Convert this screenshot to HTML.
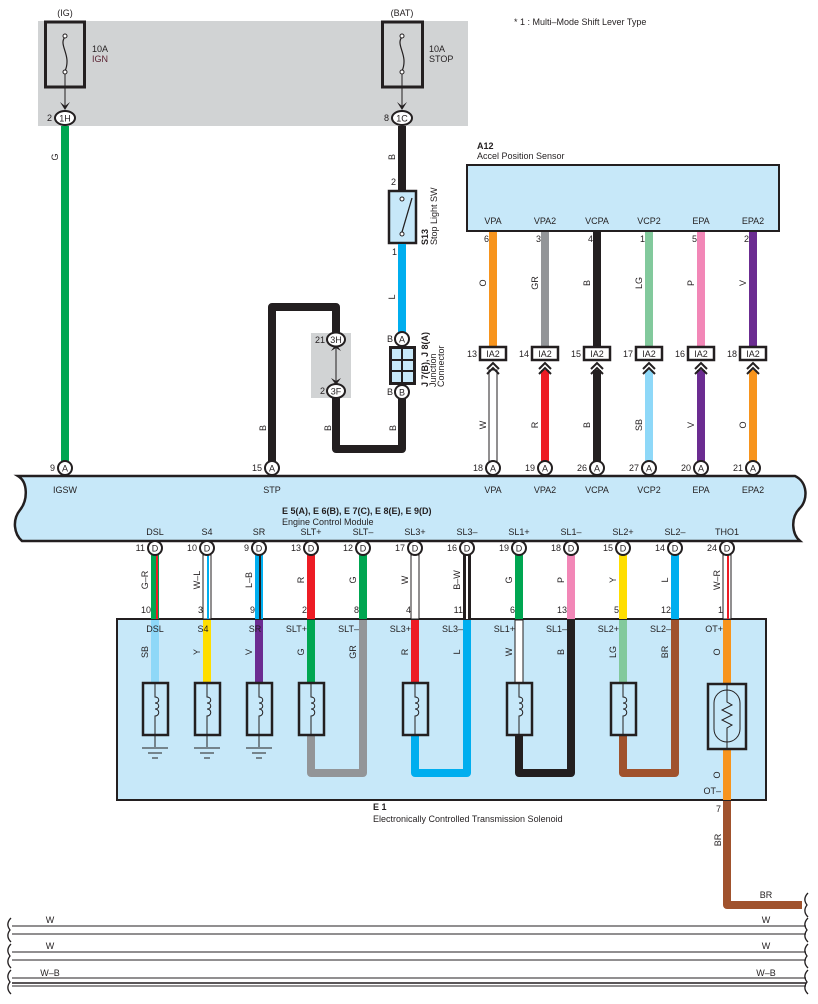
<!DOCTYPE html>
<html><head><meta charset="utf-8"><style>
html,body{margin:0;padding:0;background:#fff}
svg{display:block}
text{font-family:"Liberation Sans",sans-serif;font-size:9px;fill:#231f20}
.b{font-weight:bold}
.c{text-anchor:middle}
.e{text-anchor:end}
</style></head><body>
<svg width="818" height="1004" viewBox="0 0 818 1004" xmlns="http://www.w3.org/2000/svg">
<!-- fuse gray area -->
<rect x="38" y="21" width="430" height="105" fill="#d1d3d4"/>
<text x="65" y="16" class="c">(IG)</text>
<text x="402" y="16" class="c">(BAT)</text>
<text x="514" y="25">* 1 : Multi–Mode Shift Lever Type</text>
<rect x="45.5" y="22" width="39" height="65" fill="none" stroke="#231f20" stroke-width="3"/>
<rect x="382.5" y="22" width="40" height="65" fill="none" stroke="#231f20" stroke-width="3"/>
<path d="M65 37 C58 45,72 55,65 71 M402 37 C395 45,409 55,402 71" fill="none" stroke="#231f20" stroke-width="1.2"/>
<circle cx="65" cy="36" r="2" fill="#fff" stroke="#231f20"/><circle cx="65" cy="72" r="2" fill="#fff" stroke="#231f20"/>
<circle cx="402" cy="36" r="2" fill="#fff" stroke="#231f20"/><circle cx="402" cy="72" r="2" fill="#fff" stroke="#231f20"/>
<line x1="65" y1="74" x2="65" y2="108" stroke="#231f20"/><line x1="402" y1="74" x2="402" y2="108" stroke="#231f20"/>
<path d="M60 102 L65 110 L70 102 L65 106Z M397 102 L402 110 L407 102 L402 106Z" fill="#231f20"/>
<text x="92" y="52">10A</text><text x="92" y="62" style="fill:#5b2333">IGN</text>
<text x="429" y="52">10A</text><text x="429" y="62">STOP</text>

<!-- green IG wire -->
<rect x="61" y="126" width="8" height="336" fill="#00a651"/>
<text transform="translate(58,157) rotate(-90)" class="c">G</text>
<!-- stop wire -->
<rect x="398" y="126" width="8" height="64" fill="#231f20"/>
<text transform="translate(395,157) rotate(-90)" class="c">B</text>
<text x="396" y="185" class="e">2</text>
<rect x="389" y="191" width="27" height="52" fill="#c7e8f9" stroke="#231f20" stroke-width="2.5"/>
<circle cx="402" cy="199" r="2" fill="#fff" stroke="#231f20"/><circle cx="402" cy="234" r="2" fill="#fff" stroke="#231f20"/>
<line x1="402" y1="232" x2="412" y2="198" stroke="#231f20" stroke-width="1.3"/>
<text x="397" y="255" class="e">1</text>
<text transform="translate(428,245) rotate(-90)" class="b">S13</text>
<text transform="translate(437,245) rotate(-90)">Stop Light SW</text>
<rect x="398" y="244" width="8" height="88" fill="#00aeef"/>
<text transform="translate(395,297) rotate(-90)" class="c">L</text>
<text x="393" y="342" class="e">B</text>
<ellipse cx="402" cy="339" rx="7" ry="7" fill="#fff" stroke="#231f20" stroke-width="2"/><text x="402" y="342.5" class="c">A</text>
<rect x="389" y="346" width="27" height="39" fill="#231f20"/>
<rect x="392" y="349" width="9" height="10" fill="#c7e8f9"/><rect x="403" y="349" width="10" height="10" fill="#c7e8f9"/>
<rect x="392" y="361" width="9" height="9" fill="#c7e8f9"/><rect x="403" y="361" width="10" height="9" fill="#c7e8f9"/>
<rect x="392" y="372" width="9" height="10" fill="#c7e8f9"/><rect x="403" y="372" width="10" height="10" fill="#c7e8f9"/>
<text x="393" y="395" class="e">B</text>
<ellipse cx="402" cy="392" rx="7" ry="7" fill="#fff" stroke="#231f20" stroke-width="2"/><text x="402" y="395.5" class="c">B</text>
<text transform="translate(428,387) rotate(-90)" class="b">J 7(B), J 8(A)</text>
<text transform="translate(436,387) rotate(-90)">Junction</text>
<text transform="translate(444,387) rotate(-90)">Connector</text>
<!-- black loop -->
<path d="M402 399 L402 449 L336 449 L336 398" fill="none" stroke="#231f20" stroke-width="8" stroke-linejoin="round"/>
<text transform="translate(396,428) rotate(-90)" class="c">B</text>
<text transform="translate(331,428) rotate(-90)" class="c">B</text>
<rect x="311" y="333" width="40" height="65" fill="#d1d3d4"/>
<line x1="336" y1="346" x2="336" y2="385" stroke="#231f20"/>
<path d="M331 351 L336 344 L341 351 L336 348Z M331 378 L336 385 L341 378 L336 381Z" fill="#231f20"/>
<text x="325" y="343" class="e">21</text><text x="325" y="394" class="e">2</text>
<ellipse cx="336" cy="339.5" rx="9" ry="7" fill="#fff" stroke="#231f20" stroke-width="2"/><text x="336" y="343" class="c">3H</text>
<ellipse cx="336" cy="391" rx="9" ry="7" fill="#fff" stroke="#231f20" stroke-width="2"/><text x="336" y="394.5" class="c">3F</text>
<path d="M336 333 L336 307 L272 307 L272 462" fill="none" stroke="#231f20" stroke-width="8" stroke-linejoin="round"/>
<text transform="translate(266,428) rotate(-90)" class="c">B</text>
<text x="402" y="122" class="c"></text>
<!-- 1H 1C -->
<ellipse cx="65" cy="118" rx="10" ry="7" fill="#fff" stroke="#231f20" stroke-width="2"/><text x="65" y="121.5" class="c">1H</text>
<text x="52" y="121" class="e">2</text>
<ellipse cx="402" cy="118" rx="10" ry="7" fill="#fff" stroke="#231f20" stroke-width="2"/><text x="402" y="121.5" class="c">1C</text>
<text x="389" y="121" class="e">8</text>

<!-- A12 sensor -->
<text x="477" y="149" class="b">A12</text>
<text x="477" y="159">Accel Position Sensor</text>
<rect x="467" y="165" width="312" height="66" fill="#c7e8f9" stroke="#231f20" stroke-width="2"/>
<g>
<text x="493" y="224" class="c">VPA</text><text x="545" y="224" class="c">VPA2</text><text x="597" y="224" class="c">VCPA</text><text x="649" y="224" class="c">VCP2</text><text x="701" y="224" class="c">EPA</text><text x="753" y="224" class="c">EPA2</text>
<rect x="489" y="232" width="8" height="114" fill="#f7941d"/>
<rect x="541" y="232" width="8" height="114" fill="#939598"/>
<rect x="593" y="232" width="8" height="114" fill="#231f20"/>
<rect x="645" y="232" width="8" height="114" fill="#82c99c"/>
<rect x="697" y="232" width="8" height="114" fill="#f287b7"/>
<rect x="749" y="232" width="8" height="114" fill="#6b2c91"/>
<text x="489" y="242" class="e">6</text><text x="541" y="242" class="e">3</text><text x="593" y="242" class="e">4</text><text x="645" y="242" class="e">1</text><text x="697" y="242" class="e">5</text><text x="749" y="242" class="e">2</text>
<text transform="translate(486,283) rotate(-90)" class="c">O</text>
<text transform="translate(538,283) rotate(-90)" class="c">GR</text>
<text transform="translate(590,283) rotate(-90)" class="c">B</text>
<text transform="translate(642,283) rotate(-90)" class="c">LG</text>
<text transform="translate(694,283) rotate(-90)" class="c">P</text>
<text transform="translate(746,283) rotate(-90)" class="c">V</text>
<!-- lower segments -->
<rect x="489" y="370" width="8" height="92" fill="#fff" stroke="#231f20" stroke-width="1"/>
<rect x="541" y="370" width="8" height="92" fill="#ed1c24"/>
<rect x="593" y="370" width="8" height="92" fill="#231f20"/>
<rect x="645" y="370" width="8" height="92" fill="#8ed8f8"/>
<rect x="697" y="370" width="8" height="92" fill="#6b2c91"/>
<rect x="749" y="370" width="8" height="92" fill="#f7941d"/>
<text transform="translate(486,425) rotate(-90)" class="c">W</text>
<text transform="translate(538,425) rotate(-90)" class="c">R</text>
<text transform="translate(590,425) rotate(-90)" class="c">B</text>
<text transform="translate(642,425) rotate(-90)" class="c">SB</text>
<text transform="translate(694,425) rotate(-90)" class="c">V</text>
<text transform="translate(746,425) rotate(-90)" class="c">O</text>
</g>
<g fill="none" stroke="#231f20" stroke-width="2">
<path d="M487 369 L493 363 L499 369 M487 374 L493 368 L499 374"/>
<path d="M539 369 L545 363 L551 369 M539 374 L545 368 L551 374"/>
<path d="M591 369 L597 363 L603 369 M591 374 L597 368 L603 374"/>
<path d="M643 369 L649 363 L655 369 M643 374 L649 368 L655 374"/>
<path d="M695 369 L701 363 L707 369 M695 374 L701 368 L707 374"/>
<path d="M747 369 L753 363 L759 369 M747 374 L753 368 L759 374"/>
</g>
<g>
<rect x="480" y="347" width="26" height="13" fill="#fff" stroke="#231f20" stroke-width="2.5"/><text x="493" y="357" class="c">IA2</text><text x="477" y="357" class="e">13</text>
<rect x="532" y="347" width="26" height="13" fill="#fff" stroke="#231f20" stroke-width="2.5"/><text x="545" y="357" class="c">IA2</text><text x="529" y="357" class="e">14</text>
<rect x="584" y="347" width="26" height="13" fill="#fff" stroke="#231f20" stroke-width="2.5"/><text x="597" y="357" class="c">IA2</text><text x="581" y="357" class="e">15</text>
<rect x="636" y="347" width="26" height="13" fill="#fff" stroke="#231f20" stroke-width="2.5"/><text x="649" y="357" class="c">IA2</text><text x="633" y="357" class="e">17</text>
<rect x="688" y="347" width="26" height="13" fill="#fff" stroke="#231f20" stroke-width="2.5"/><text x="701" y="357" class="c">IA2</text><text x="685" y="357" class="e">16</text>
<rect x="740" y="347" width="26" height="13" fill="#fff" stroke="#231f20" stroke-width="2.5"/><text x="753" y="357" class="c">IA2</text><text x="737" y="357" class="e">18</text>
</g>

<!-- ECM -->
<path d="M18 476 L795 476 C808 482,808 500,800 508 C790 518,792 534,800 541 L22 541 C14 534,12 520,20 510 C28 500,28 482,18 476Z" fill="#c7e8f9" stroke="#231f20" stroke-width="2.5"/>
<text x="65" y="493" class="c">IGSW</text><text x="272" y="493" class="c">STP</text>
<text x="493" y="493" class="c">VPA</text><text x="545" y="493" class="c">VPA2</text><text x="597" y="493" class="c">VCPA</text><text x="649" y="493" class="c">VCP2</text><text x="701" y="493" class="c">EPA</text><text x="753" y="493" class="c">EPA2</text>
<text x="282" y="514" class="b">E 5(A), E 6(B), E 7(C), E 8(E), E 9(D)</text>
<text x="282" y="525">Engine Control Module</text>
<g>
<text x="155" y="535" class="c">DSL</text><text x="207" y="535" class="c">S4</text><text x="259" y="535" class="c">SR</text><text x="311" y="535" class="c">SLT+</text><text x="363" y="535" class="c">SLT–</text><text x="415" y="535" class="c">SL3+</text><text x="467" y="535" class="c">SL3–</text><text x="519" y="535" class="c">SL1+</text><text x="571" y="535" class="c">SL1–</text><text x="623" y="535" class="c">SL2+</text><text x="675" y="535" class="c">SL2–</text><text x="727" y="535" class="c">THO1</text>
</g>
<!-- A circles -->
<g stroke="#231f20" stroke-width="2" fill="#fff">
<circle cx="65" cy="468" r="7"/><circle cx="272" cy="468" r="7"/>
<circle cx="493" cy="468" r="7"/><circle cx="545" cy="468" r="7"/><circle cx="597" cy="468" r="7"/><circle cx="649" cy="468" r="7"/><circle cx="701" cy="468" r="7"/><circle cx="753" cy="468" r="7"/>
</g>
<g>
<text x="65" y="471.5" class="c">A</text><text x="272" y="471.5" class="c">A</text><text x="493" y="471.5" class="c">A</text><text x="545" y="471.5" class="c">A</text><text x="597" y="471.5" class="c">A</text><text x="649" y="471.5" class="c">A</text><text x="701" y="471.5" class="c">A</text><text x="753" y="471.5" class="c">A</text>
<text x="55" y="471" class="e">9</text><text x="262" y="471" class="e">15</text><text x="483" y="471" class="e">18</text><text x="535" y="471" class="e">19</text><text x="587" y="471" class="e">26</text><text x="639" y="471" class="e">27</text><text x="691" y="471" class="e">20</text><text x="743" y="471" class="e">21</text>
</g>

<!-- E1 box -->
<rect x="117" y="619" width="649" height="181" fill="#c7e8f9" stroke="#231f20" stroke-width="2"/>
<!-- upper wires ECM->E1 -->
<rect x="151" y="555" width="8" height="64" fill="#00a651"/><rect x="156" y="555" width="2" height="64" fill="#ed1c24"/>
<rect x="203" y="555" width="8" height="64" fill="#fff" stroke="#231f20"/><rect x="207" y="555" width="2" height="64" fill="#00aeef"/>
<rect x="255" y="555" width="8" height="64" fill="#00aeef"/><rect x="259" y="555" width="2" height="64" fill="#231f20"/>
<rect x="307" y="555" width="8" height="64" fill="#ed1c24"/>
<rect x="359" y="555" width="8" height="64" fill="#00a651"/>
<rect x="411" y="555" width="8" height="64" fill="#fff" stroke="#231f20"/>
<rect x="463" y="555" width="8" height="64" fill="#231f20"/><rect x="466" y="555" width="2" height="64" fill="#fff"/>
<rect x="515" y="555" width="8" height="64" fill="#00a651"/>
<rect x="567" y="555" width="8" height="64" fill="#f287b7"/>
<rect x="619" y="555" width="8" height="64" fill="#ffde00"/>
<rect x="671" y="555" width="8" height="64" fill="#00aeef"/>
<rect x="723" y="555" width="8" height="64" fill="#fff" stroke="#231f20"/><rect x="727" y="555" width="2" height="64" fill="#ed1c24"/>
<g>
<text transform="translate(148,580) rotate(-90)" class="c">G–R</text>
<text transform="translate(200,580) rotate(-90)" class="c">W–L</text>
<text transform="translate(252,580) rotate(-90)" class="c">L–B</text>
<text transform="translate(304,580) rotate(-90)" class="c">R</text>
<text transform="translate(356,580) rotate(-90)" class="c">G</text>
<text transform="translate(408,580) rotate(-90)" class="c">W</text>
<text transform="translate(460,580) rotate(-90)" class="c">B–W</text>
<text transform="translate(512,580) rotate(-90)" class="c">G</text>
<text transform="translate(564,580) rotate(-90)" class="c">P</text>
<text transform="translate(616,580) rotate(-90)" class="c">Y</text>
<text transform="translate(668,580) rotate(-90)" class="c">L</text>
<text transform="translate(720,580) rotate(-90)" class="c">W–R</text>
<text x="151" y="613" class="e">10</text><text x="203" y="613" class="e">3</text><text x="255" y="613" class="e">9</text><text x="307" y="613" class="e">2</text><text x="359" y="613" class="e">8</text><text x="411" y="613" class="e">4</text><text x="463" y="613" class="e">11</text><text x="515" y="613" class="e">6</text><text x="567" y="613" class="e">13</text><text x="619" y="613" class="e">5</text><text x="671" y="613" class="e">12</text><text x="723" y="613" class="e">1</text>
</g>
<!-- D circles -->
<g stroke="#231f20" stroke-width="2" fill="#fff">
<circle cx="155" cy="548" r="7"/><circle cx="207" cy="548" r="7"/><circle cx="259" cy="548" r="7"/><circle cx="311" cy="548" r="7"/><circle cx="363" cy="548" r="7"/><circle cx="415" cy="548" r="7"/><circle cx="467" cy="548" r="7"/><circle cx="519" cy="548" r="7"/><circle cx="571" cy="548" r="7"/><circle cx="623" cy="548" r="7"/><circle cx="675" cy="548" r="7"/><circle cx="727" cy="548" r="7"/>
</g>
<g>
<text x="155" y="551.5" class="c">D</text><text x="207" y="551.5" class="c">D</text><text x="259" y="551.5" class="c">D</text><text x="311" y="551.5" class="c">D</text><text x="363" y="551.5" class="c">D</text><text x="415" y="551.5" class="c">D</text><text x="467" y="551.5" class="c">D</text><text x="519" y="551.5" class="c">D</text><text x="571" y="551.5" class="c">D</text><text x="623" y="551.5" class="c">D</text><text x="675" y="551.5" class="c">D</text><text x="727" y="551.5" class="c">D</text>
<text x="145" y="551" class="e">11</text><text x="197" y="551" class="e">10</text><text x="249" y="551" class="e">9</text><text x="301" y="551" class="e">13</text><text x="353" y="551" class="e">12</text><text x="405" y="551" class="e">17</text><text x="457" y="551" class="e">16</text><text x="509" y="551" class="e">19</text><text x="561" y="551" class="e">18</text><text x="613" y="551" class="e">15</text><text x="665" y="551" class="e">14</text><text x="717" y="551" class="e">24</text>
</g>
<!-- inside E1 wires -->
<rect x="151" y="620" width="8" height="63" fill="#8ed8f8"/>
<rect x="203" y="620" width="8" height="63" fill="#ffde00"/>
<rect x="255" y="620" width="8" height="63" fill="#6b2c91"/>
<rect x="307" y="620" width="8" height="63" fill="#00a651"/>
<path d="M311 736 L311 773 L363 773 L363 620" fill="none" stroke="#939598" stroke-width="8" stroke-linejoin="round"/>
<rect x="411" y="620" width="8" height="63" fill="#ed1c24"/>
<path d="M415 736 L415 773 L467 773 L467 620" fill="none" stroke="#00aeef" stroke-width="8" stroke-linejoin="round"/>
<rect x="515" y="620" width="8" height="63" fill="#fff" stroke="#231f20" stroke-width="1"/>
<path d="M519 736 L519 773 L571 773 L571 620" fill="none" stroke="#231f20" stroke-width="8" stroke-linejoin="round"/>
<rect x="619" y="620" width="8" height="63" fill="#82c99c"/>
<path d="M623 736 L623 773 L675 773 L675 620" fill="none" stroke="#a0522d" stroke-width="8" stroke-linejoin="round"/>
<rect x="723" y="620" width="8" height="180" fill="#f7941d"/>
<g>
<text x="155" y="632" class="c">DSL</text><text x="203" y="632" class="c">S4</text><text x="255" y="632" class="c">SR</text><text x="307" y="632" class="e">SLT+</text><text x="359" y="632" class="e">SLT–</text><text x="411" y="632" class="e">SL3+</text><text x="463" y="632" class="e">SL3–</text><text x="515" y="632" class="e">SL1+</text><text x="567" y="632" class="e">SL1–</text><text x="619" y="632" class="e">SL2+</text><text x="671" y="632" class="e">SL2–</text><text x="723" y="632" class="e">OT+</text>
<text transform="translate(148,652) rotate(-90)" class="c">SB</text>
<text transform="translate(200,652) rotate(-90)" class="c">Y</text>
<text transform="translate(252,652) rotate(-90)" class="c">V</text>
<text transform="translate(304,652) rotate(-90)" class="c">G</text>
<text transform="translate(356,652) rotate(-90)" class="c">GR</text>
<text transform="translate(408,652) rotate(-90)" class="c">R</text>
<text transform="translate(460,652) rotate(-90)" class="c">L</text>
<text transform="translate(512,652) rotate(-90)" class="c">W</text>
<text transform="translate(564,652) rotate(-90)" class="c">B</text>
<text transform="translate(616,652) rotate(-90)" class="c">LG</text>
<text transform="translate(668,652) rotate(-90)" class="c">BR</text>
<text transform="translate(720,652) rotate(-90)" class="c">O</text>
<text transform="translate(720,775) rotate(-90)" class="c">O</text>
<text x="721" y="794" class="e">OT–</text>
</g>
<!-- coils -->
<g fill="#c7e8f9" stroke="#231f20" stroke-width="2.5">
<rect x="143" y="683" width="25" height="52"/><rect x="195" y="683" width="25" height="52"/><rect x="247" y="683" width="25" height="52"/><rect x="299" y="683" width="25" height="52"/><rect x="403" y="683" width="25" height="52"/><rect x="507" y="683" width="25" height="52"/><rect x="611" y="683" width="25" height="52"/>
<rect x="708" y="684" width="38" height="65"/>
</g>
<g fill="none" stroke="#231f20" stroke-width="1">
<path id="cl" d="M155 683 L155 697 C160 697,160 703,155 703 C160 703,160 709,155 709 C160 709,160 716,155 716 L155 747"/>
<path d="M207 683 L207 697 C212 697,212 703,207 703 C212 703,212 709,207 709 C212 709,212 716,207 716 L207 747"/>
<path d="M259 683 L259 697 C264 697,264 703,259 703 C264 703,264 709,259 709 C264 709,264 716,259 716 L259 747"/>
<path d="M311 683 L311 697 C316 697,316 703,311 703 C316 703,316 709,311 709 C316 709,316 716,311 716 L311 735"/>
<path d="M415 683 L415 697 C420 697,420 703,415 703 C420 703,420 709,415 709 C420 709,420 716,415 716 L415 735"/>
<path d="M519 683 L519 697 C524 697,524 703,519 703 C524 703,524 709,519 709 C524 709,524 716,519 716 L519 735"/>
<path d="M623 683 L623 697 C628 697,628 703,623 703 C628 703,628 709,623 709 C628 709,628 716,623 716 L623 735"/>
<path d="M142 748 L168 748 M148 753 L162 753 M152 758 L158 758"/>
<path d="M194 748 L220 748 M200 753 L214 753 M204 758 L210 758"/>
<path d="M246 748 L272 748 M252 753 L266 753 M256 758 L262 758"/>
<rect x="714" y="690" width="26" height="52" rx="13"/>
<path d="M727 684 L727 702 L732 705 L722 710 L732 715 L722 720 L732 725 L727 728 L727 749"/>
</g>
<text x="373" y="810" class="b">E 1</text>
<text x="373" y="822">Electronically Controlled Transmission Solenoid</text>
<text x="721" y="812" class="e">7</text>
<path d="M727 801 L727 905 L802 905" fill="none" stroke="#a0522d" stroke-width="8" stroke-linejoin="round"/>
<text transform="translate(721,840) rotate(-90)" class="c">BR</text>
<text x="766" y="898" class="c">BR</text>
<!-- bottom lines -->
<g stroke="#231f20" stroke-width="1">
<line x1="12" y1="926" x2="806" y2="926"/><line x1="12" y1="934" x2="806" y2="934"/>
<line x1="12" y1="952" x2="806" y2="952"/><line x1="12" y1="960" x2="806" y2="960"/>
<line x1="12" y1="978" x2="806" y2="978"/><line x1="12" y1="983" x2="806" y2="983" stroke-width="1.5"/><line x1="12" y1="986" x2="806" y2="986"/>
</g>
<g fill="none" stroke="#231f20" stroke-width="1.3">
<path d="M11 918 C7 922,7 926,10 930 C7 934,7 938,11 942"/>
<path d="M11 944 C7 948,7 952,10 956 C7 960,7 964,11 968"/>
<path d="M11 970 C7 974,7 978,10 982 C7 986,7 990,11 994"/>
<path d="M808 893 C804 897,804 901,807 905 C804 909,804 913,808 917"/>
<path d="M808 918 C804 922,804 926,807 930 C804 934,804 938,808 942"/>
<path d="M808 944 C804 948,804 952,807 956 C804 960,804 964,808 968"/>
<path d="M808 970 C804 974,804 978,807 982 C804 986,804 990,808 994"/>
</g>
<text x="50" y="923" class="c">W</text><text x="766" y="923" class="c">W</text>
<text x="50" y="949" class="c">W</text><text x="766" y="949" class="c">W</text>
<text x="50" y="976" class="c">W–B</text><text x="766" y="976" class="c">W–B</text>
</svg>
</body></html>
